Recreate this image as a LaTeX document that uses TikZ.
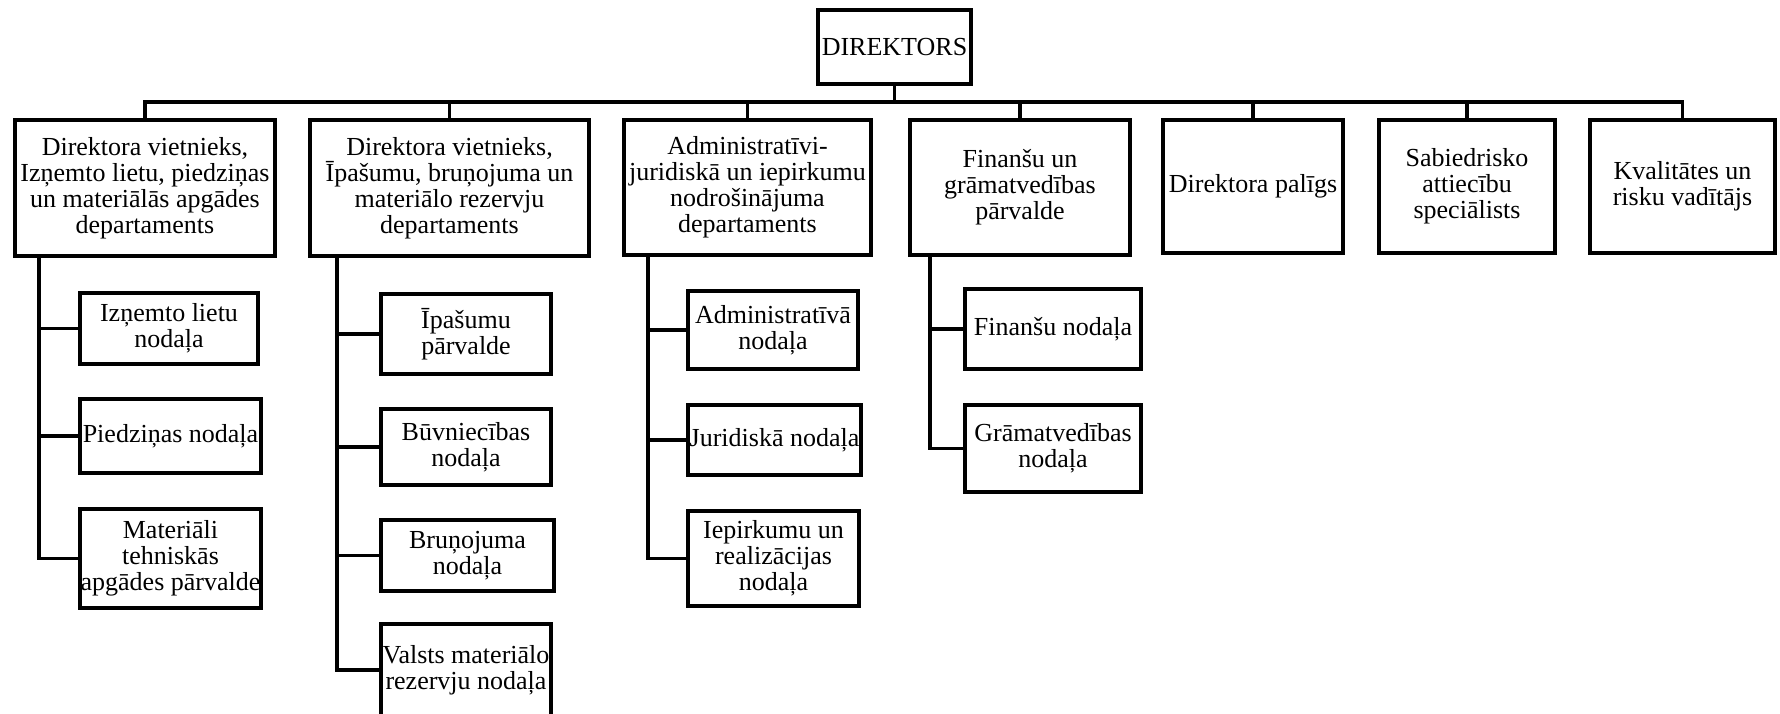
\documentclass[tikz,border=0pt]{standalone}
\usepackage{fontspec}
\setmainfont{Liberation Serif}
\newcommand\tx{\fontsize{26}{26}\selectfont}
\begin{document}
\begin{tikzpicture}[x=1pt,y=-1pt,
  box/.style 2 args={draw, line width=3.8pt, minimum width=#1, minimum height=#2,
    inner sep=0pt, align=center, font=\tx},
  con/.style={line width=3.5pt}]
\fill[white] (0,0) rectangle (1780,714);
\useasboundingbox (0,0) rectangle (1780,714);

% top
\node[box={153}{74}] (dir) at (894.5,47) {DIREKTORS};
\coordinate (bus) at (0,102);

\node[box={260}{136}] (b1) at (145,188) {Direktora vietnieks,\\Izņemto lietu, piedziņas\\un materiālās apgādes\\departaments};
\node[box={279}{136}] (b2) at (449.5,188) {Direktora vietnieks,\\Īpašumu, bruņojuma un\\materiālo rezervju\\departaments};
\node[box={247}{135}] (b3) at (747.5,187.5) {Administratīvi-\\juridiskā un iepirkumu\\nodrošinājuma\\departaments};
\node[box={220}{135}] (b4) at (1020,187.5) {Finanšu un\\grāmatvedības\\pārvalde};
\node[box={180}{133}] (b5) at (1253,186.5) {Direktora palīgs};
\node[box={176}{133}] (b6) at (1467,186.5) {Sabiedrisko\\attiecību\\speciālists};
\node[box={185}{133}] (b7) at (1682.5,186.5) {Kvalitātes un\\risku vadītājs};

% column 1
\node[box={178}{71}] (s11) at (169,328.5) {Izņemto lietu\\nodaļa};
\node[box={181}{74}] (s12) at (170.5,436) {Piedziņas nodaļa};
\node[box={181}{99}] (s13) at (170.5,558.5) {Materiāli\\tehniskās\\apgādes pārvalde};
% column 2
\node[box={170}{80}] (s21) at (466,334) {Īpašumu\\pārvalde};
\node[box={170}{76}] (s22) at (466,447) {Būvniecības\\nodaļa};
\node[box={173}{71}] (s23) at (467.5,555.5) {Bruņojuma\\nodaļa};
\node[box={170}{92}] (s24) at (466,670) {Valsts materiālo\\rezervju nodaļa};
% column 3
\node[box={170}{78}] (s31) at (773,330) {Administratīvā\\nodaļa};
\node[box={173}{70}] (s32) at (774.5,440) {Juridiskā nodaļa};
\node[box={171}{95}] (s33) at (773.5,558.5) {Iepirkumu un\\realizācijas\\nodaļa};
% column 4
\node[box={176}{80}] (s41) at (1053,329) {Finanšu nodaļa};
\node[box={176}{87}] (s42) at (1053,448.5) {Grāmatvedības\\nodaļa};

% connectors top
\draw[con] (dir.south) -- (dir.south |- bus);
\draw[con] (b1.north) |- (bus -| b7.north) -- (b7.north);
\foreach \b in {b2,b3,b4,b5,b6}
  \draw[con] (\b.north) -- (\b.north |- bus);

% spines
\coordinate (sp1) at ([xshift=26pt]b1.south west);
\coordinate (sp2) at ([xshift=29pt]b2.south west);
\coordinate (sp3) at ([xshift=26pt]b3.south west);
\coordinate (sp4) at ([xshift=22pt]b4.south west);

\draw[con] (sp1) |- (s13.west);
\foreach \s in {s11,s12} \draw[con] (sp1 |- \s.west) -- (\s.west);
\draw[con] (sp2) |- (s24.west);
\foreach \s in {s21,s22,s23} \draw[con] (sp2 |- \s.west) -- (\s.west);
\draw[con] (sp3) |- (s33.west);
\foreach \s in {s31,s32} \draw[con] (sp3 |- \s.west) -- (\s.west);
\draw[con] (sp4) |- (s42.west);
\draw[con] (sp4 |- s41.west) -- (s41.west);
\end{tikzpicture}
\end{document}
